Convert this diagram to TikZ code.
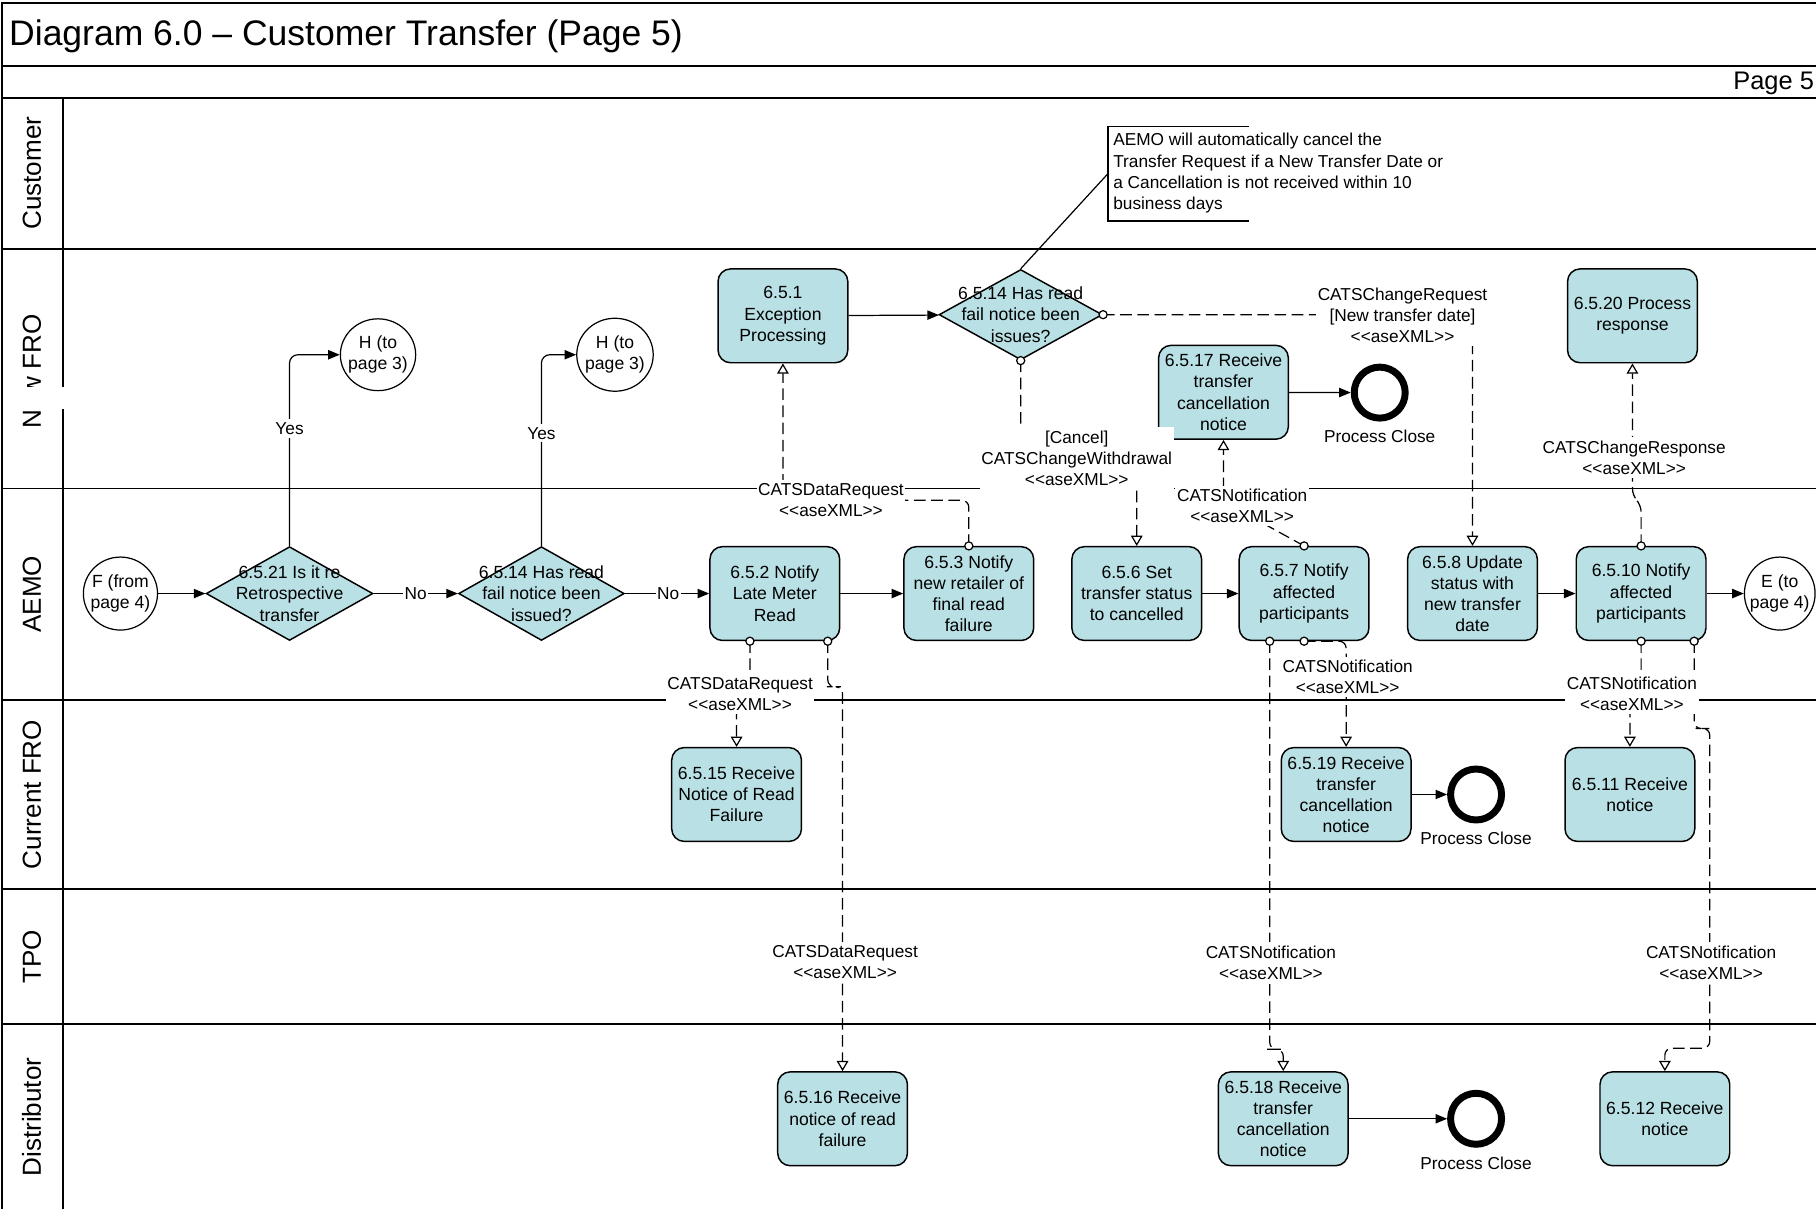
\documentclass[tikz,border=0pt]{standalone}
\usepackage{fontspec}
\setmainfont{Liberation Sans}
\usetikzlibrary{shapes.geometric,arrows.meta,calc}
\definecolor{procfill}{RGB}{185,224,228}
\newcommand\ax{<\kern0pt<aseXML>\kern0pt>}
\newcommand\bfnt{\fontsize{10.8}{13}\selectfont}
\newcommand\lfnt{\fontsize{10.6}{13}\selectfont}
\begin{document}
\begin{tikzpicture}[x=0.025cm,y=-0.025cm,
  lane/.style={line width=1.2pt},
  lanelbl/.style={rotate=90, anchor=base, inner sep=0pt, font=\fontsize{16}{19}\selectfont},
  proc/.style={draw, line width=0.9pt, fill=procfill, rounded corners=0.27cm, minimum width=2.8cm, minimum height=2.025cm, inner sep=0pt, align=center, font=\bfnt},
  dec/.style={draw, line width=0.9pt, fill=procfill, diamond, inner sep=0pt},
  dtext/.style={align=center, font=\bfnt, inner sep=0pt},
  conn/.style={draw, line width=0.75pt, ellipse, inner sep=0pt, fill=white},
  endc/.style={draw, circle, line width=0.15cm, minimum size=1.1cm, inner sep=0pt},
  plbl/.style={font=\lfnt, inner sep=0pt},
  flow/.style={line width=0.75pt, -{Triangle[length=0.25cm,width=0.2cm]}},
  msg/.style={line width=0.75pt, dash pattern=on 0.25cm off 0.12cm, -{Triangle[open,length=0.22cm,width=0.25cm]}, rounded corners=0.15cm},
  lbl/.style={fill=white, inner xsep=1pt, inner ysep=2pt, align=center, font=\lfnt},
  tail/.style={draw, fill=white, line width=0.75pt}
]
\useasboundingbox (0,0) rectangle (1568,1044);
% ---------- frame and lanes ----------
\draw[lane] (1.4,1044) -- (1.4,2.3) -- (1568,2.3);
\foreach \yy in {56.7,84.3,215.3,421.8,604.5,767.7,884.3} \draw[lane] (1.4,\yy) -- (1568,\yy);
\draw[lane] (54.7,84.3) -- (54.7,1044);
\node[anchor=base west, inner sep=0pt, font=\fontsize{21.8}{25}\selectfont] (title) at (7.7,38.9) {Diagram 6.0 – Customer Transfer (Page 5)};
\node[anchor=base east, inner sep=0pt, font=\fontsize{15.6}{18}\selectfont] (pg) at (1566.5,77.7) {Page 5};
\node[lanelbl] (lcu) at (35.3,149.6) {Customer};
\node[lanelbl] (lnf) at (35.3,320.5) {New FRO};
\node[lanelbl] (lae) at (35.3,513) {AEMO};
\node[lanelbl] (lcf) at (35.3,686) {Current FRO};
\node[lanelbl] (ltp) at (35.3,826) {TPO};
\node[lanelbl] (ldi) at (35.3,964.5) {Distributor};
% ---------- nodes ----------
\node[proc] (b651) at (676,272.7) {6.5.1\\Exception\\Processing};
\node[proc] (b6517) at (1056.4,338.7) {6.5.17 Receive\\transfer\\cancellation\\notice};
\node[proc] (b6520) at (1409.5,272.7) {6.5.20 Process\\response};
\node[proc] (b652) at (669,512.5) {6.5.2 Notify\\Late Meter\\Read};
\node[proc] (b653) at (836.5,512.5) {6.5.3 Notify\\new retailer of\\final read\\failure};
\node[proc] (b656) at (981.5,512.5) {6.5.6 Set\\transfer status\\to cancelled};
\node[proc] (b657) at (1126,512.5) {6.5.7 Notify\\affected\\participants};
\node[proc] (b658) at (1271.4,512.5) {6.5.8 Update\\status with\\new transfer\\date};
\node[proc] (b6510) at (1417,512.5) {6.5.10 Notify\\affected\\participants};
\node[proc] (b6515) at (636,686) {6.5.15 Receive\\Notice of Read\\Failure};
\node[proc] (b6519) at (1162.3,686) {6.5.19 Receive\\transfer\\cancellation\\notice};
\node[proc] (b6511) at (1407.3,686) {6.5.11 Receive\\notice};
\node[proc] (b6516) at (727.5,966) {6.5.16 Receive\\notice of read\\failure};
\node[proc] (b6518) at (1108,966) {6.5.18 Receive\\transfer\\cancellation\\notice};
\node[proc] (b6512) at (1437.5,966) {6.5.12 Receive\\notice};
\node[dec, minimum width=3.6cm, minimum height=2.025cm] (d6521) at (250,512.5) {};
\node[dtext] (t6521) at (d6521) {6.5.21 Is it re\\Retrospective\\transfer};
\node[dec, minimum width=3.575cm, minimum height=2.025cm] (d6514a) at (467.5,512.5) {};
\node[dtext] (t6514a) at (d6514a) {6.5.14 Has read\\fail notice been\\issued?};
\node[dec, minimum width=3.525cm, minimum height=1.95cm] (d6514b) at (881.3,271.7) {};
\node[dtext] (t6514b) at (d6514b) {6.5.14 Has read\\fail notice been\\issues?};
\node[conn, minimum width=1.6cm, minimum height=1.575cm] (cF) at (104,512.5) {};
\node[dtext] (tF) at (cF) {F (from\\page 4)};
\node[conn, minimum width=1.525cm, minimum height=1.575cm] (cE) at (1536.7,512.5) {};
\node[dtext] (tE) at (cE) {E (to\\page 4)};
\node[conn, minimum width=1.625cm, minimum height=1.55cm] (cH1) at (326.4,306.3) {};
\node[dtext] (tH1) at (cH1) {H (to\\page 3)};
\node[conn, minimum width=1.65cm, minimum height=1.575cm] (cH2) at (531,306.3) {};
\node[dtext] (tH2) at (cH2) {H (to\\page 3)};
\node[endc] (pc1) at (1191.3,339) {};
\node[plbl] (pl1) at (1191.3,377) {Process Close};
\node[endc] (pc2) at (1274.5,686) {};
\node[plbl] (pl2) at (1274.5,724) {Process Close};
\node[endc] (pc3) at (1274.5,966) {};
\node[plbl] (pl3) at (1274.5,1004.6) {Process Close};
% note
\node[anchor=west, align=left, inner sep=0pt, font=\lfnt] (note) at (961,149.5) {AEMO will automatically cancel the\\Transfer Request if a New Transfer Date or\\a Cancellation is not received within 10\\business days};
\coordinate (nTR) at (1078.6,109.4);
\coordinate (nTL) at (956.6,109.4);
\coordinate (nBL) at (956.6,190.8);
\coordinate (nBR) at (1078.6,190.8);
\coordinate (nL) at (956.6,150);
\draw[line width=0.75pt] (nTR) -- (nTL) -- (nBL) -- (nBR);
\draw[line width=0.75pt] (d6514b.north) -- (nL);
% ---------- sequence flows ----------
\draw[flow] (cF) -- (d6521);
\draw[flow] (d6521) -- (d6514a);
\draw[flow] (d6514a) -- (b652);
\draw[flow] (b652) -- (b653);
\draw[flow] (b656) -- (b657);
\draw[flow] (b658) -- (b6510);
\draw[flow] (b6510) -- (cE);
\draw[flow, rounded corners=0.18cm] (d6521.north) |- (cH1);
\draw[flow, rounded corners=0.18cm] (d6514a.north) |- (cH2);
\draw[flow] (b651) -- (d6514b);
\draw[flow] (b6517) -- (pc1);
\draw[flow] (b6519) -- (pc2);
\draw[flow] (b6518) -- (pc3);
% ---------- message flows ----------
\coordinate (A1) at (676,432);
\draw[msg] (b653.north) |- (A1) -- (b651.south);
\draw[msg] (d6514b.east) -| (b658.north);
\coordinate (C1) at (981.5,395.6);
\draw[msg] (d6514b.south) |- (C1) -- (b656.north);
\coordinate (D1) at (1056.4,433);
\draw[msg] (b657.north) -- (D1) -- (b6517.south);
\coordinate (E1) at (1417,436);
\coordinate (E2) at (1409.5,428);
\draw[msg] (b6510.north) -- (E1) -- (E2) -- (b6520.south);
\coordinate (Ft) at ($(b652.south)+(-21.5,0)$);
\coordinate (F1) at (641,598);
\draw[msg] (Ft) |- (F1) -| (b6515.north);
\coordinate (Gt) at ($(b652.south)+(45.7,0)$);
\coordinate (G1) at (720,593);
\draw[msg] (Gt) |- (G1) -| (b6516.north);
\coordinate (Ht) at ($(b657.south)+(-29.7,0)$);
\coordinate (H1) at (1100,906);
\draw[msg] (Ht) |- (H1) -| (b6518.north);
\draw[msg] (b657.south) -| (b6519.north);
\coordinate (J1) at (1412,600);
\draw[msg] (b6510.south) |- (J1) -| (b6511.north);
\coordinate (Kt) at ($(b6510.south)+(45.8,0)$);
\coordinate (K1) at (1470,629);
\coordinate (K2) at (1476.3,905);
\draw[msg] (Kt) |- (K1) -| (K2) -| (b6512.north);
\foreach \p in {b653.north,d6514b.east,d6514b.south,b657.north,b6510.north,Ft,Gt,Ht,b657.south,b6510.south,Kt}
  \draw[tail] (\p) circle[radius=0.0875cm];
% ---------- labels ----------
\node[lbl] (yes1) at (250,370) {Yes};
\node[lbl] (yes2) at (467.5,374) {Yes};
\node[lbl] (no1) at (359,512.5) {No};
\node[lbl] (no2) at (577,512.5) {No};
\node[lbl] (lA) at (717.5,432) {CATSDataRequest\\\ax};
\node[lbl] (lB) at (1211,272) {CATSChangeRequest\\{}[New transfer date]\\\ax};
\node[lbl] (lC) at (929.7,395.6) {[Cancel]\\CATSChangeWithdrawal\\\ax};
\node[lbl] (lD) at (1072.5,437) {CATSNotification\\\ax};
\node[lbl] (lE) at (1411,395) {CATSChangeResponse\\\ax};
\node[lbl] (lF) at (639,599) {CATSDataRequest\\\ax};
\node[lbl] (lG) at (729.7,831) {CATSDataRequest\\\ax};
\node[lbl] (lH) at (1097.3,831) {CATSNotification\\\ax};
\node[lbl] (lI) at (1163.6,584.6) {CATSNotification\\\ax};
\node[lbl] (lJ) at (1409,599) {CATSNotification\\\ax};
\node[lbl] (lK) at (1477.4,831) {CATSNotification\\\ax};
% white patch over the lane label
\fill[white] (4,334.5) rectangle (60,353.5);
\end{tikzpicture}
\end{document}
